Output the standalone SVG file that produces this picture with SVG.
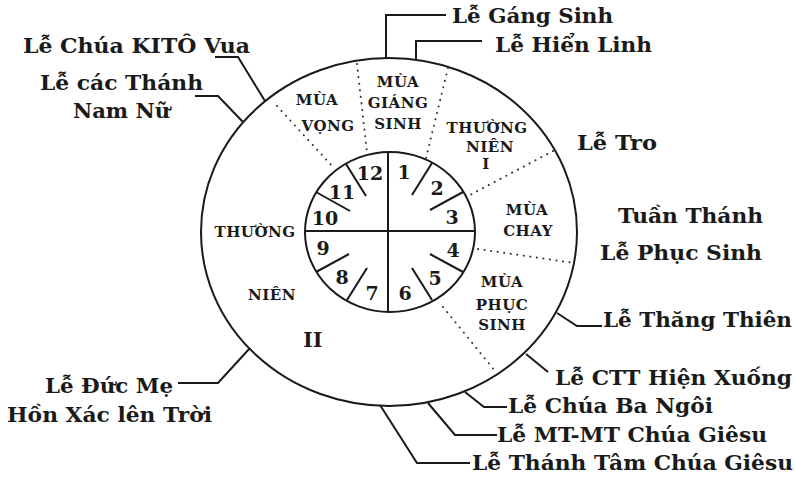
<svg xmlns="http://www.w3.org/2000/svg" width="795" height="477" viewBox="0 0 795 477">
<style>
.ln{fill:none;stroke:#1a1a1a;stroke-width:2;stroke-linejoin:miter}
.dot{fill:none;stroke:#333;stroke-width:2;stroke-linecap:round;stroke-dasharray:0.1 6.5}
.lbl{font-family:"DejaVu Serif","Liberation Serif",serif;font-weight:bold;font-size:21px;fill:#1a1a1a}
.sea{font-family:"DejaVu Serif","Liberation Serif",serif;font-weight:bold;font-size:15px;letter-spacing:0.5px;fill:#1a1a1a;text-anchor:middle}
.num{font-family:"DejaVu Serif","Liberation Serif",serif;font-weight:bold;font-size:19px;fill:#1a1a1a;text-anchor:middle}
</style>
<rect width="795" height="477" fill="#fff"/>
<g id="outer-ring">
<ellipse cx="389" cy="232" rx="188" ry="174" class="ln"/>
</g>
<g id="season-dividers">
<line x1="357" y1="64" x2="367" y2="152" class="dot"/>
<line x1="277" y1="106" x2="333" y2="167" class="dot"/>
<line x1="448" y1="68" x2="426" y2="158" class="dot"/>
<line x1="553" y1="151" x2="470" y2="195" class="dot"/>
<line x1="478" y1="249" x2="574" y2="263" class="dot"/>
<line x1="443" y1="307" x2="495" y2="371" class="dot"/>
</g>
<g id="month-clock">
<ellipse cx="390" cy="232" rx="85" ry="80" class="ln"/>
<line x1="388" y1="152" x2="388" y2="312" class="ln"/>
<line x1="305" y1="231" x2="475" y2="231" class="ln"/>
<line x1="432" y1="163" x2="412" y2="195" class="ln"/>
<line x1="463" y1="192" x2="430" y2="210" class="ln"/>
<line x1="463" y1="272" x2="430" y2="254" class="ln"/>
<line x1="432" y1="300" x2="412" y2="268" class="ln"/>
<line x1="347" y1="300" x2="367" y2="268" class="ln"/>
<line x1="316" y1="272" x2="349" y2="254" class="ln"/>
<line x1="316" y1="192" x2="350" y2="211" class="ln"/>
<line x1="346" y1="164" x2="366" y2="196" class="ln"/>
<text x="404" y="179" class="num">1</text>
<text x="437" y="195" class="num">2</text>
<text x="452" y="224" class="num">3</text>
<text x="453" y="257" class="num">4</text>
<text x="435" y="285" class="num">5</text>
<text x="405" y="300" class="num">6</text>
<text x="372" y="300" class="num">7</text>
<text x="342" y="284" class="num">8</text>
<text x="323" y="255" class="num">9</text>
<text x="325" y="225" class="num">10</text>
<text x="342" y="199" class="num">11</text>
<text x="370" y="180" class="num">12</text>
</g>
<g id="mua-vong">
<text x="317" y="105" class="sea">MÙA</text>
<text x="328" y="131" class="sea">VỌNG</text>
</g>
<g id="mua-giang-sinh">
<text x="398" y="87" class="sea">MÙA</text>
<text x="398" y="108" class="sea">GIÁNG</text>
<text x="398" y="129" class="sea">SINH</text>
</g>
<g id="thuong-nien-1">
<text x="487" y="133" class="sea">THƯỜNG</text>
<text x="490" y="152" class="sea">NIÊN</text>
<text x="486" y="169" class="sea">I</text>
</g>
<g id="mua-chay">
<text x="527" y="215" class="sea">MÙA</text>
<text x="528" y="236" class="sea">CHAY</text>
</g>
<g id="mua-phuc-sinh">
<text x="502" y="287" class="sea">MÙA</text>
<text x="502" y="310" class="sea">PHỤC</text>
<text x="502" y="330" class="sea">SINH</text>
</g>
<g id="thuong-nien-2">
<text x="255" y="237" class="sea">THƯỜNG</text>
<text x="272" y="300" class="sea">NIÊN</text>
<text x="313" y="347" class="sea" style="font-size:20px">II</text>
</g>
<g id="connectors">
<polyline points="386,58 386,15 446,15" class="ln"/>
<polyline points="416,60 416,41 482,41" class="ln"/>
<polyline points="265,101 238,57 215,57" class="ln"/>
<polyline points="243,122 218,96 195,96" class="ln"/>
<polyline points="250,348 218,383 178,383" class="ln"/>
<polyline points="557,313 577,326 602,326" class="ln"/>
<polyline points="526,354 548,372" class="ln"/>
<polyline points="465,392 484,407 507,407" class="ln"/>
<polyline points="428,403 455,435 497,435" class="ln"/>
<polyline points="380,405 417,463 470,463" class="ln"/>
</g>
<g id="le-giang-sinh"><text x="452" y="23" class="lbl" textLength="161" lengthAdjust="spacingAndGlyphs">Lễ Gáng Sinh</text></g>
<g id="le-hien-linh"><text x="495" y="52" class="lbl" textLength="157" lengthAdjust="spacingAndGlyphs">Lễ Hiển Linh</text></g>
<g id="le-tro"><text x="577" y="150" class="lbl" textLength="80" lengthAdjust="spacingAndGlyphs">Lễ Tro</text></g>
<g id="tuan-thanh"><text x="618" y="223" class="lbl" textLength="145" lengthAdjust="spacingAndGlyphs">Tuần Thánh</text></g>
<g id="le-phuc-sinh"><text x="600" y="260" class="lbl" textLength="162" lengthAdjust="spacingAndGlyphs">Lễ Phục Sinh</text></g>
<g id="le-thang-thien"><text x="603" y="327" class="lbl" textLength="189" lengthAdjust="spacingAndGlyphs">Lễ Thăng Thiên</text></g>
<g id="le-ctt"><text x="555" y="385" class="lbl" textLength="237" lengthAdjust="spacingAndGlyphs">Lễ CTT Hiện Xuống</text></g>
<g id="le-ba-ngoi"><text x="508" y="413" class="lbl" textLength="205" lengthAdjust="spacingAndGlyphs">Lễ Chúa Ba Ngôi</text></g>
<g id="le-mt-mt"><text x="497" y="442" class="lbl" textLength="270" lengthAdjust="spacingAndGlyphs">Lễ MT-MT Chúa Giêsu</text></g>
<g id="le-thanh-tam"><text x="472" y="470" class="lbl" textLength="321" lengthAdjust="spacingAndGlyphs">Lễ Thánh Tâm Chúa Giêsu</text></g>
<g id="le-kito-vua"><text x="23" y="53" class="lbl" textLength="227" lengthAdjust="spacingAndGlyphs">Lễ Chúa KITÔ Vua</text></g>
<g id="le-cac-thanh"><text x="40" y="90" class="lbl" textLength="163" lengthAdjust="spacingAndGlyphs">Lễ các Thánh</text><text x="73" y="118" class="lbl" textLength="97" lengthAdjust="spacingAndGlyphs">Nam Nữ</text></g>
<g id="le-duc-me"><text x="45" y="393" class="lbl" textLength="128" lengthAdjust="spacingAndGlyphs">Lễ Đức Mẹ</text><text x="7" y="422" class="lbl" textLength="205" lengthAdjust="spacingAndGlyphs">Hồn Xác lên Trời</text></g>
</svg>
